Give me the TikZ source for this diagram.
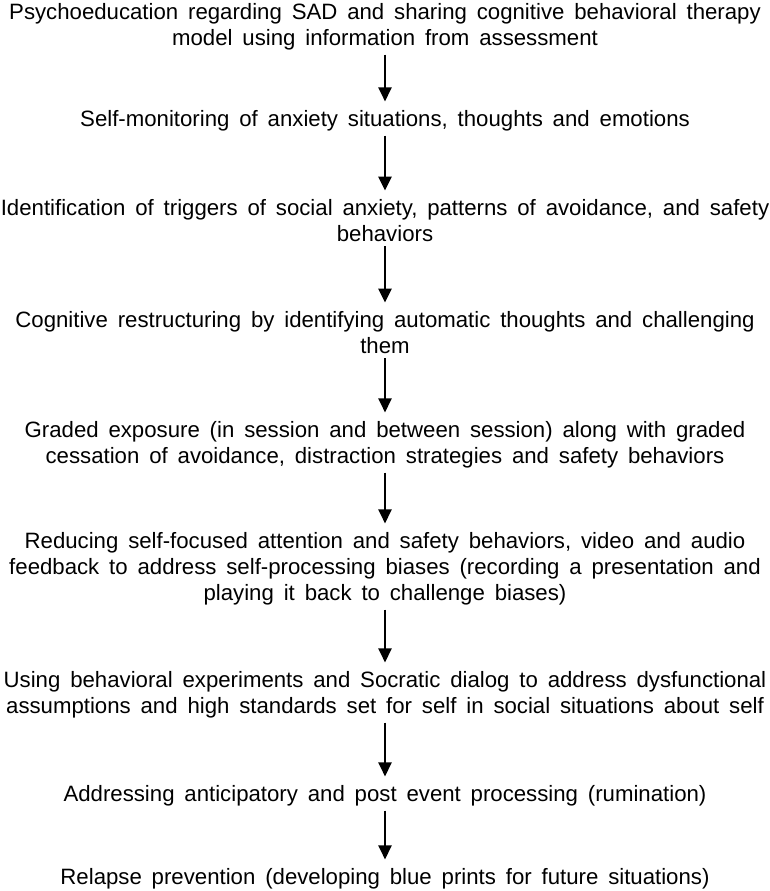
\documentclass[tikz,border=0pt]{standalone}
\usepackage{fontspec}
\setmainfont{Liberation Sans}[WordSpace=1.6]
\usetikzlibrary{arrows.meta}
\begin{document}
\begin{tikzpicture}[x=1pt,y=1pt,
  stage/.style={align=center,inner sep=0pt,font=\fontsize{22.2}{26}\selectfont},
  flow/.style={-{Triangle[length=14pt,width=13pt]},line width=2.5pt,shorten <=4pt,shorten >=9pt}]
\useasboundingbox (0,0) rectangle (770,891);
\node[stage] (s1) at (385,891-27) {Psychoeducation regarding SAD and sharing cognitive behavioral therapy\\model using information from assessment};
\node[stage] (s2) at (385,891-121) {Self-monitoring of anxiety situations, thoughts and emotions};
\node[stage] (s3) at (385,891-221) {Identification of triggers of social anxiety, patterns of avoidance, and safety\\behaviors};
\node[stage] (s4) at (385,891-333) {Cognitive restructuring by identifying automatic thoughts and challenging\\them};
\node[stage] (s5) at (385,891-445) {Graded exposure (in session and between session) along with graded\\cessation of avoidance, distraction strategies and safety behaviors};
\node[stage] (s6) at (385,891-569) {Reducing self-focused attention and safety behaviors, video and audio\\feedback to address self-processing biases (recording a presentation and\\playing it back to challenge biases)};
\node[stage] (s7) at (385,891-695) {Using behavioral experiments and Socratic dialog to address dysfunctional\\assumptions and high standards set for self in social situations about self};
\node[stage] (s8) at (385,891-796) {Addressing anticipatory and post event processing (rumination)};
\node[stage] (s9) at (385,891-879) {Relapse prevention (developing blue prints for future situations)};
\foreach \a/\b in {s1/s2,s2/s3,s3/s4,s4/s5,s5/s6,s6/s7,s7/s8,s8/s9}
  \draw[flow] (\a) -- (\b);
\end{tikzpicture}
\end{document}
